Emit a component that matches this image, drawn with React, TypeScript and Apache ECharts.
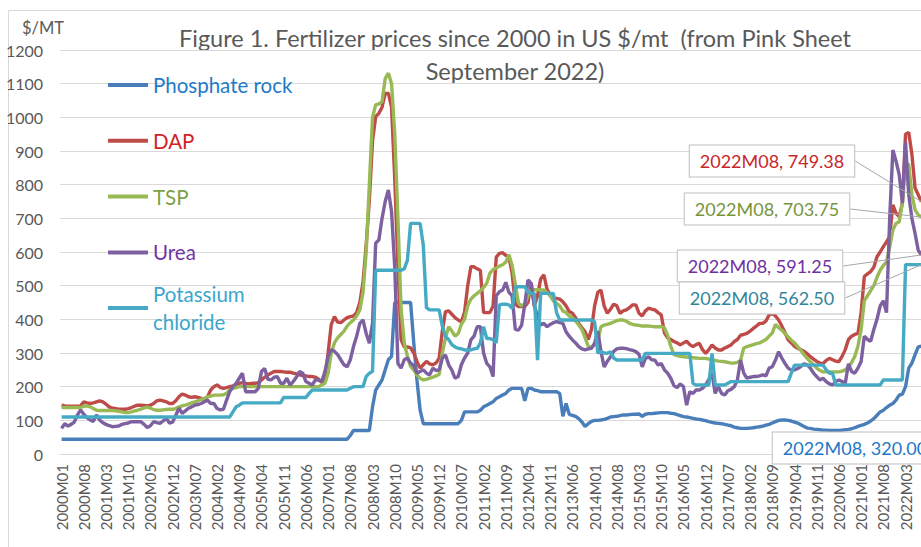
import React, { useEffect, useRef } from 'react';
import * as echarts from 'echarts';

// ---- categories (monthly, 2000M01 .. 2022M08) ----
const firstYear = 2000;
const lastYear = 2022;
const lastMonth = 8;
const categories: string[] = [];
for (let y = firstYear; y <= lastYear; y++) {
  for (let m = 1; m <= 12; m++) {
    if (y === lastYear && m > lastMonth) break;
    categories.push(`${y}M${m < 10 ? '0' + m : m}`);
  }
}

// ---- series values, $/mt (one row per year) ----
const phosphateRock = [
  44, 44, 44, 44, 44, 44, 44, 44, 44, 44, 44, 44,
  44, 44, 44, 44, 44, 44, 44, 44, 44, 44, 44, 44,
  44, 44, 44, 44, 44, 44, 44, 44, 44, 44, 44, 44,
  44, 44, 44, 44, 44, 44, 44, 44, 44, 44, 44, 44,
  44, 44, 44, 44, 44, 44, 44, 44, 44, 44, 44, 44,
  44, 44, 44, 44, 44, 44, 44, 44, 44, 44, 44, 44,
  44, 44, 44, 44, 44, 44, 44, 44, 44, 44, 44, 44,
  44, 44, 44, 44, 44, 44, 44, 55, 70, 70, 70, 70,
  70, 70, 140, 190, 205, 220, 250, 280, 290, 450, 450, 450,
  450, 450, 450, 330, 220, 130, 90, 90, 90, 90, 90, 90,
  90, 90, 90, 90, 90, 90, 100, 125, 125, 125, 125, 125,
  130, 140, 145, 150, 155, 165, 170, 175, 180, 190, 195, 195,
  195, 195, 158, 195, 195, 190, 188, 185, 185, 185, 185, 185,
  185, 180, 112, 150, 118, 115, 112, 105, 95, 82, 90, 97,
  100, 100, 101, 103, 106, 110, 111, 112, 114, 116, 116, 117,
  118, 118, 119, 112, 118, 120, 120, 121, 122, 123, 123, 123,
  121, 120, 117, 114, 111, 110, 108, 106, 104, 103, 101, 99,
  96, 94, 92, 91, 90, 88, 86, 84, 80, 78, 76, 76,
  76, 77, 78, 80, 81, 83, 86, 88, 92, 96, 100, 101,
  101, 100, 98, 95, 92, 87, 82, 77, 76, 74, 73, 72,
  71, 71, 70, 70, 70, 70, 71, 72, 73, 75, 78, 82,
  85, 88, 92, 98, 105, 115, 125, 130, 138, 145, 150, 160,
  175, 178, 200, 255, 270, 295, 318, 320,
];

const dap = [
  145, 143, 142, 142, 142, 142, 143, 155, 152, 150, 152, 155,
  158, 155, 148, 140, 136, 135, 133, 133, 133, 135, 138, 142,
  145, 145, 144, 143, 145, 150, 158, 160, 158, 155, 150, 150,
  158, 170, 178, 175, 170, 168, 170, 168, 165, 162, 170, 190,
  200, 205, 198, 195, 197, 200, 202, 205, 210, 212, 210, 208,
  210, 210, 212, 220, 228, 235, 240, 245, 245, 245, 244, 243,
  243, 240, 238, 235, 233, 232, 230, 230, 228, 222, 212, 220,
  300, 385, 408, 392, 390, 398, 405, 408, 410, 420, 450, 510,
  620, 755, 930, 1002, 1012, 1030, 1071, 1071, 1030, 820, 560, 340,
  318, 318, 315, 300, 275, 255, 265, 275, 268, 265, 270, 285,
  365, 423, 425, 415, 405, 398, 393, 420, 500, 556, 556, 550,
  545, 420, 420, 420, 440, 585, 596, 598, 590, 585, 537, 445,
  438, 438, 438, 450, 507, 440, 470, 520, 532, 490, 470, 462,
  462, 460, 452, 440, 423, 418, 405, 388, 375, 363, 340, 370,
  440, 480, 487, 440, 418, 430, 445, 440, 418, 425, 428, 435,
  443, 443, 418, 410, 425, 433, 430, 428, 420, 413, 360, 345,
  340, 334, 330, 324, 330, 335, 325, 319, 325, 329, 310, 299,
  310, 324, 315, 309, 309, 315, 319, 324, 334, 340, 353, 355,
  358, 365, 373, 380, 388, 388, 395, 413, 418, 410, 398, 380,
  360, 339, 330, 320, 314, 310, 305, 298, 289, 282, 275, 270,
  269, 278, 284, 280, 276, 274, 290, 310, 340, 350, 355, 358,
  420, 527, 535, 542, 555, 586, 600, 616, 630, 646, 740, 715,
  705, 745, 950, 955, 890, 790, 770, 749.38,
];

const tsp = [
  138, 138, 138, 138, 138, 138, 138, 142, 143, 140, 135, 130,
  129, 129, 129, 129, 129, 128, 127, 125, 123, 123, 125, 128,
  130, 133, 137, 139, 136, 132, 130, 130, 131, 132, 133, 133,
  135, 140, 143, 145, 148, 152, 155, 158, 162, 165, 170, 172,
  175, 175, 175, 176, 180, 190, 195, 197, 200, 200, 200, 200,
  200, 200, 200, 200, 200, 200, 200, 200, 200, 200, 200, 200,
  200, 200, 200, 200, 200, 200, 200, 200, 200, 200, 205, 210,
  240, 300, 330, 345, 355, 365, 380, 390, 398, 410, 428, 480,
  600, 800, 1000, 1037, 1040, 1046, 1115, 1131, 1100, 950, 700, 430,
  330, 290, 260, 249, 235, 225, 220, 222, 225, 228, 232, 236,
  300, 345, 378, 365, 350, 358, 385, 400, 440, 460, 470, 477,
  485, 495, 507, 537, 548, 552, 558, 562, 570, 592, 560, 505,
  448, 440, 445, 470, 487, 488, 488, 487, 487, 480, 470, 455,
  448, 440, 425, 420, 410, 405, 395, 383, 370, 345, 320, 316,
  325, 335, 378, 383, 385, 388, 392, 396, 398, 398, 395, 388,
  385, 383, 382, 380, 380, 380, 379, 378, 378, 378, 375, 353,
  320, 295, 292, 290, 289, 288, 287, 286, 285, 284, 284, 284,
  282, 280, 278, 276, 275, 274, 272, 270, 270, 272, 278, 315,
  319, 322, 325, 328, 330, 335, 340, 350, 360, 385, 375, 368,
  358, 348, 338, 330, 319, 308, 295, 284, 274, 265, 255, 248,
  244, 244, 244, 244, 244, 244, 246, 250, 258, 272, 290, 320,
  370, 455, 470, 485, 500, 525, 546, 560, 570, 615, 665, 685,
  690, 745, 865, 860, 770, 725, 710, 703.75,
];

const urea = [
  76, 90, 83, 88, 95, 116, 131, 118, 108, 101, 97, 116,
  101, 93, 88, 84, 81, 82, 83, 88, 90, 92, 96, 96,
  96, 96, 88, 79, 84, 96, 93, 91, 98, 106, 92, 95,
  115, 136, 121, 128, 136, 140, 145, 147, 150, 155, 160, 150,
  150, 135, 131, 133, 160, 185, 200, 210, 225, 240, 185, 185,
  185, 185, 195, 245, 254, 222, 220, 228, 230, 210, 210, 225,
  205, 215, 228, 245, 240, 215, 210, 205, 220, 220, 215, 245,
  290, 310, 305, 295, 280, 265, 259, 280, 319, 350, 388, 398,
  358, 329, 388, 626, 636, 700, 750, 784, 720, 556, 269, 255,
  280, 285, 270, 262, 240, 245, 250, 240, 235, 255, 248, 250,
  285, 294, 265, 249, 225, 230, 265, 285, 300, 339, 350, 378,
  378, 300, 269, 259, 230, 470, 482, 487, 510, 480, 470, 370,
  368, 383, 445, 517, 507, 440, 410, 383, 388, 378, 385, 390,
  393, 390, 388, 363, 350, 339, 330, 319, 312, 309, 312, 314,
  329, 365, 305, 259, 275, 289, 305, 312, 314, 314, 313, 310,
  308, 304, 296, 259, 284, 289, 280, 279, 264, 269, 250, 240,
  225, 203, 197, 208, 200, 145, 185, 180, 190, 190, 195, 205,
  222, 240, 180, 200, 180, 175, 188, 192, 200, 220, 279, 240,
  225, 228, 230, 230, 232, 235, 232, 255, 259, 279, 304, 285,
  269, 255, 249, 250, 254, 260, 268, 265, 255, 240, 230, 220,
  225, 215, 208, 205, 215, 220, 215, 210, 268, 245, 240, 255,
  275, 350, 340, 335, 370, 400, 440, 455, 420, 700, 903, 870,
  830, 745, 925, 770, 700, 655, 605, 591.25,
];

const potassiumChloride = [
  110, 110, 110, 110, 110, 110, 110, 110, 110, 110, 110, 110,
  110, 110, 110, 110, 110, 110, 110, 110, 110, 110, 110, 110,
  110, 110, 110, 110, 110, 110, 110, 110, 110, 110, 110, 110,
  110, 110, 110, 110, 110, 110, 110, 110, 110, 110, 110, 110,
  110, 110, 110, 110, 110, 110, 125, 140, 145, 152, 152, 152,
  152, 152, 152, 152, 152, 152, 152, 152, 152, 152, 168, 168,
  168, 168, 168, 168, 168, 168, 180, 190, 190, 190, 190, 190,
  190, 190, 190, 190, 190, 190, 190, 195, 200, 200, 200, 200,
  230, 240, 245, 546, 546, 546, 546, 546, 546, 546, 546, 546,
  550, 576, 685, 685, 685, 685, 620, 435, 428, 428, 428, 428,
  380, 348, 340, 325, 318, 314, 312, 309, 309, 309, 312, 314,
  330, 378, 343, 343, 340, 330, 443, 445, 445, 443, 433, 497,
  497, 497, 497, 480, 477, 477, 279, 478, 477, 477, 477, 477,
  420, 398, 398, 398, 398, 398, 398, 398, 398, 398, 398, 398,
  393, 300, 304, 300, 299, 304, 285, 279, 279, 279, 279, 279,
  279, 279, 279, 279, 299, 299, 299, 299, 299, 299, 299, 299,
  299, 299, 299, 299, 299, 299, 299, 210, 205, 205, 205, 205,
  205, 299, 205, 205, 205, 205, 210, 215, 215, 215, 215, 215,
  215, 215, 215, 215, 215, 215, 215, 215, 215, 215, 215, 215,
  215, 215, 240, 264, 264, 264, 264, 264, 264, 264, 264, 264,
  264, 250, 240, 240, 205, 205, 205, 205, 205, 205, 205, 205,
  205, 205, 205, 205, 205, 205, 205, 220, 220, 220, 220, 220,
  220, 220, 562.5, 562.5, 562.5, 562.5, 562.5, 562.5,
];

// ---- styling ----
const FONT = 'Lato, "Open Sans", sans-serif';
const GREY = '#595959';

const seriesDefs = [
  { name: 'Phosphate rock', data: phosphateRock, line: '#4A7EBB', text: '#1F77C8', box: [855, 448] },
  { name: 'DAP', data: dap, line: '#BE4B48', text: '#C8282A', box: [772, 161] },
  { name: 'TSP', data: tsp, line: '#98B954', text: '#77953A', box: [767, 209] },
  { name: 'Urea', data: urea, line: '#7D60A0', text: '#7030A0', box: [760, 266] },
  { name: 'Potassium chloride', data: potassiumChloride, line: '#46AAC5', text: '#31869B', box: [762, 298] },
];
const legendTextColors: Record<string, string> = {
  'Phosphate rock': '#1F7AC8',
  DAP: '#D02424',
  TSP: '#7FA048',
  Urea: '#7434A4',
  'Potassium chloride': '#3AA6CC',
};

export default function App() {
  const ref = useRef<HTMLDivElement>(null);

  useEffect(() => {
    if (!ref.current) return;
    const chart = echarts.init(ref.current, undefined, { renderer: 'svg' });
    const lastIdx = categories.length - 1;

    const series = seriesDefs.map((s) => ({
      name: s.name,
      type: 'line',
      symbol: 'none',
      showSymbol: true,
      showAllSymbol: true,
      clip: false,
      color: s.line,
      itemStyle: { color: s.line },
      lineStyle: { width: 3.4, color: s.line },
      emphasis: { disabled: true },
      labelLayout: { x: s.box[0], y: s.box[1], align: 'center', verticalAlign: 'middle' },
      labelLine: { show: true, lineStyle: { color: '#A6A6A6', width: 1 } },
      data: s.data.map((v, i) =>
        i === lastIdx
          ? {
              value: v,
              symbol: 'circle',
              symbolSize: 1,
              label: {
                show: true,
                formatter: `${categories[lastIdx]}, ${v.toFixed(2)}`,
                color: s.text,
                fontFamily: FONT,
                fontSize: 18,
                lineHeight: 21,
                backgroundColor: '#FFFFFF',
                borderColor: '#BFBFBF',
                borderWidth: 1,
                padding: [5, 10, 5, 10],
              },
              labelLine: { show: true, lineStyle: { color: '#A6A6A6', width: 1 } },
            }
          : v
      ),
    }));

    const legendCommon = {
      orient: 'vertical',
      left: 108,
      itemWidth: 40,
      itemHeight: 4,
      icon: 'rect',
      padding: 0,
      selectedMode: false,
    };

    chart.setOption({
      animation: false,
      backgroundColor: '#FFFFFF',
      textStyle: { fontFamily: FONT },
      grid: { left: 60, right: -2, top: 50, bottom: 93, outerBoundsMode: 'none' },
      legend: [
        {
          ...legendCommon,
          top: 73,
          itemGap: 31.8,
          textStyle: { fontSize: 20.5, lineHeight: 24, fontFamily: FONT },
          data: seriesDefs.slice(0, 4).map((s) => ({ name: s.name, textStyle: { color: legendTextColors[s.name] } })),
        },
        {
          ...legendCommon,
          top: 266,
          formatter: () => 'Potassium\nchloride',
          textStyle: { fontSize: 20.5, lineHeight: 28, padding: [28, 0, 0, 0], fontFamily: FONT },
          data: [{ name: 'Potassium chloride', textStyle: { color: legendTextColors['Potassium chloride'] } }],
        },
      ],
      xAxis: {
        type: 'category',
        data: categories,
        boundaryGap: true,
        axisLine: { lineStyle: { color: '#D9D9D9' } },
        axisTick: { show: false },
        axisLabel: { interval: 6, rotate: 90, fontSize: 15, color: GREY, fontFamily: FONT, margin: 10 },
        splitLine: { show: false },
      },
      yAxis: {
        type: 'value',
        min: 0,
        max: 1200,
        interval: 100,
        axisLine: { show: false },
        axisTick: { show: false },
        axisLabel: {
          fontSize: 16,
          color: GREY,
          fontFamily: FONT,
          margin: 17,
          formatter: (v: number) => String(v),
        },
        splitLine: { lineStyle: { color: '#D9D9D9', width: 1 } },
      },
      graphic: [
        {
          type: 'rect',
          silent: true,
          z: -10,
          shape: { x: 8.5, y: 10.5, width: 940, height: 560 },
          style: { fill: 'none', stroke: '#D9D9D9', lineWidth: 1 },
        },
        {
          type: 'text',
          silent: true,
          x: 515,
          y: 21,
          style: {
            text: 'Figure 1. Fertilizer prices since 2000 in US $/mt  (from Pink Sheet\nSeptember 2022)',
            align: 'center',
            verticalAlign: 'top',
            font: `23.5px ${FONT}`,
            lineHeight: 33,
            fill: GREY,
          },
        },
        {
          type: 'text',
          silent: true,
          x: 22,
          y: 28,
          style: {
            text: '$/MT',
            align: 'left',
            verticalAlign: 'middle',
            font: `16.5px ${FONT}`,
            fill: GREY,
          },
        },
      ],
      series,
    });

    return () => {
      chart.dispose();
    };
  }, []);

  return (
    <div
      ref={ref}
      style={{ position: 'fixed', left: 0, top: 0, width: 921, height: 547, background: '#fff' }}
    />
  );
}
